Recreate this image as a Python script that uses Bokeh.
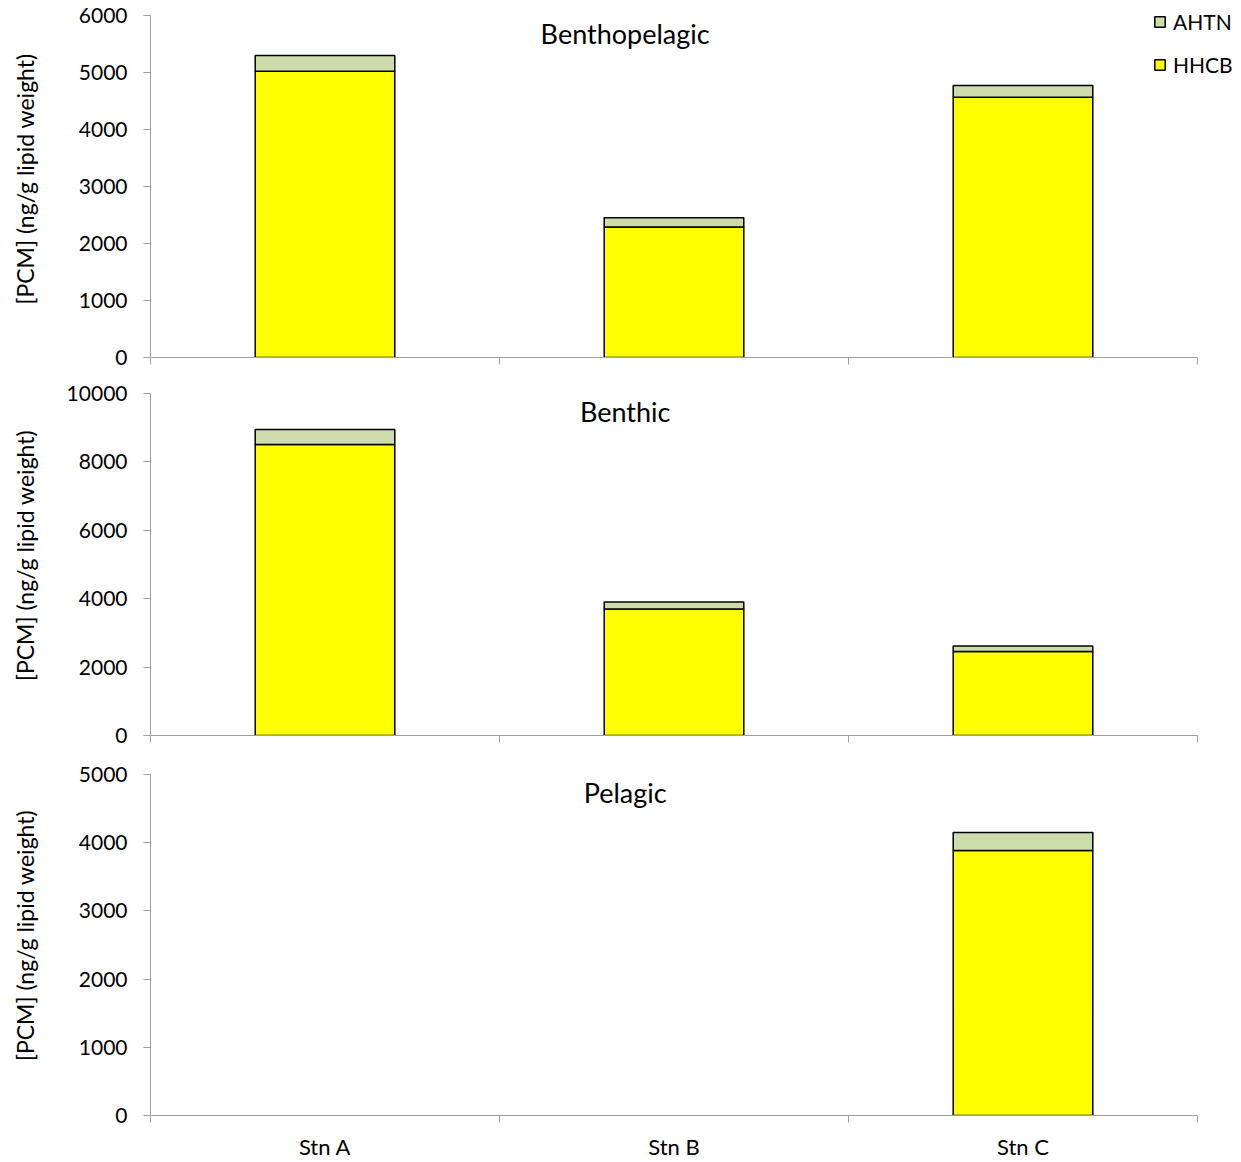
import math
from bokeh.plotting import figure
from bokeh.layouts import column
from bokeh.models import (Range1d, FixedTicker, SingleIntervalTicker, Label,
                          Legend, LegendItem, ColumnDataSource)
from bokeh.embed import file_html
from bokeh.resources import INLINE

# ---------------- data ----------------
stations = ["Stn A", "Stn B", "Stn C"]
series = ["HHCB", "AHTN"]
panel_titles = ["Benthopelagic", "Benthic", "Pelagic"]

benthopelagic_hhcb = [5020, 2290, 4565]
benthopelagic_ahtn = [280, 160, 206]
benthic_hhcb = [8510, 3700, 2455]
benthic_ahtn = [440, 205, 165]
pelagic_hhcb = [None, None, 3885]   # no fish sampled at Stn A / Stn B
pelagic_ahtn = [None, None, 265]

y_max = [6000, 10000, 5000]
y_step = [1000, 2000, 1000]

colors = {"HHCB": "#ffff00", "AHTN": "#cddcab"}
FONT = "Lato"
AXIS_GRAY = "#a0a0a0"

panels = [
    (benthopelagic_hhcb, benthopelagic_ahtn),
    (benthic_hhcb, benthic_ahtn),
    (pelagic_hhcb, pelagic_ahtn),
]

# layout (pixels): blank band above the axis, axis height, bottom border
borders = [(15, 342, 18), (18, 342, 20), (19, 341, 47)]
label_standoffs = [37, 25, 37]
AXIS_W = 1047          # width of the category axis
FRAME_W = 1091         # frame runs to the right edge so the legend is not clipped

figs = []
n = len(stations)
for i, ((hh, ah), (pad, ph, bbot)) in enumerate(zip(panels, borders)):
    xs = [k + 0.5 for k in range(n)]
    src = ColumnDataSource(dict(
        x=xs,
        HHCB=[float("nan") if v is None else v for v in hh],
        AHTN=[float("nan") if v is None else v for v in ah],
    ))
    fh = ph + pad
    p = figure(width=1241, frame_width=FRAME_W, frame_height=fh,
               min_border_left=150, min_border_right=0,
               min_border_top=0, min_border_bottom=bbot,
               x_range=Range1d(0, n * FRAME_W / AXIS_W),
               y_range=Range1d(0, y_max[i] * fh / ph),
               output_backend="svg", toolbar_location=None, tools="")
    p.outline_line_color = None
    p.grid.visible = False
    p.background_fill_color = "white"

    rs = p.vbar_stack(series, x="x", width=0.4, source=src,
                      fill_color=[colors[s] for s in series],
                      line_color="black", line_width=1.5)

    # y axis
    ya = p.yaxis[0]
    ya.bounds = (0, y_max[i])
    ya.ticker = SingleIntervalTicker(interval=y_step[i], num_minor_ticks=0)
    ya.axis_line_color = AXIS_GRAY
    ya.major_tick_line_color = AXIS_GRAY
    ya.major_tick_out = 7
    ya.major_tick_in = 0
    ya.minor_tick_line_color = None
    ya.major_label_text_font = FONT
    ya.major_label_text_font_size = "21px"
    ya.major_label_text_color = "black"
    ya.major_label_standoff = 16
    ya.axis_label = "[PCM] (ng/g lipid weight)"
    ya.axis_label_text_font = FONT
    ya.axis_label_text_font_size = "23px"
    ya.axis_label_text_font_style = "normal"
    ya.axis_label_text_color = "black"
    ya.axis_label_standoff = label_standoffs[i]

    # x axis: labels at category centres, tick marks at category boundaries
    xa = p.xaxis[0]
    xa.bounds = (0, n)
    xa.axis_line_color = AXIS_GRAY
    xa.major_tick_out = 0
    xa.major_tick_in = 0
    xa.minor_tick_line_color = AXIS_GRAY
    xa.minor_tick_out = 7
    xa.minor_tick_in = 0
    if i < 2:
        xa.ticker = FixedTicker(ticks=[], minor_ticks=list(range(n + 1)))
        xa.major_label_standoff = 0
    else:
        xa.ticker = FixedTicker(ticks=xs, minor_ticks=list(range(n + 1)))
        xa.major_label_overrides = {x: s for x, s in zip(xs, stations)}
        xa.major_label_text_font = FONT
        xa.major_label_text_font_size = "22px"
        xa.major_label_text_color = "black"
        xa.major_label_standoff = 10

    p.add_layout(Label(x=1.36, y=ph - 18, x_units="data", y_units="screen",
                       text=panel_titles[i], text_align="center",
                       text_baseline="middle", text_font=FONT,
                       text_font_size="27px", text_color="black"))

    if i == 0:
        legend = Legend(items=[LegendItem(label="AHTN", renderers=[rs[1]]),
                               LegendItem(label="HHCB", renderers=[rs[0]])],
                        location=(1003, 280), orientation="vertical",
                        glyph_width=13, glyph_height=13, label_height=22,
                        spacing=18, padding=0, margin=0, label_standoff=7,
                        border_line_color=None, background_fill_alpha=0,
                        label_text_font=FONT, label_text_font_size="21px",
                        label_text_color="black")
        p.add_layout(legend, "center")
    figs.append(p)

layout = column(*figs, spacing=0)
open("out.html", "w").write(file_html(layout, INLINE))
